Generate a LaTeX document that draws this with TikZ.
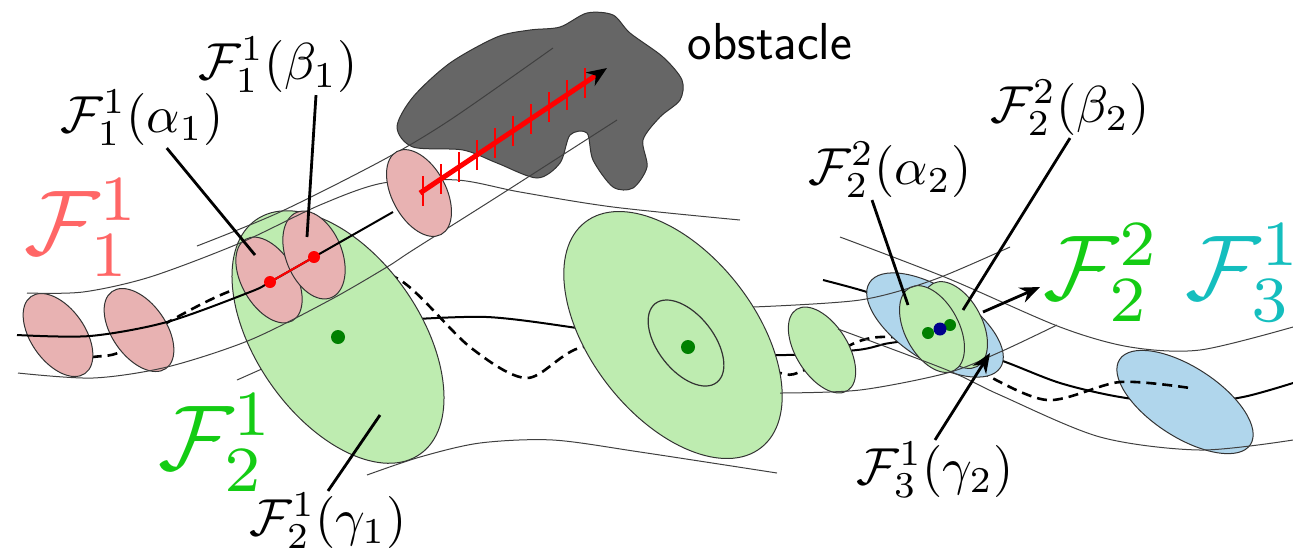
\documentclass[tikz,border=0pt]{standalone}
\usetikzlibrary{calc, arrows.meta}
\definecolor{pinkfill}{RGB}{232,178,178}
\definecolor{greenfill}{RGB}{190,236,176}
\definecolor{bluefill}{RGB}{176,214,236}
\definecolor{famred}{RGB}{255,102,102}
\definecolor{famgreen}{RGB}{20,204,20}
\definecolor{famcyan}{RGB}{20,190,190}
\definecolor{dotgreen}{RGB}{0,128,0}
\definecolor{obstgray}{RGB}{102,102,102}
\newcommand{\lblmath}[1]{\scalebox{2.6}{$#1$}}
\newcommand{\fammath}[1]{\scalebox{4.6}{$#1$}}

\begin{document}
\begin{tikzpicture}[x=0.5pt, y=-0.5pt,
    tube/.style={black!75, line width=0.5pt},
    traj/.style={black, line width=1pt},
    guess/.style={black, line width=1.3pt, dash pattern=on 5pt off 3pt},
    pinkell/.style={fill=pinkfill, draw=black!80, line width=0.5pt},
    greenell/.style={fill=greenfill, draw=black!80, line width=0.5pt},
    blueell/.style={fill=bluefill, draw=black!80, line width=0.5pt},
    leader/.style={black, line width=1.4pt},
    pointer/.style={leader, -{Stealth[length=10pt, width=8pt]}},
    lbl/.style={inner sep=1pt},
    famlbl/.style={inner sep=1pt},
    tickmark/.style={red, line width=1pt}]
    \useasboundingbox (0,0) rectangle (1293,554);
    %traiettorie sotto le ellissi
    \draw[traj] plot[smooth] coordinates {(400,320) (487,317) (577,328) (680,345) (773,355) (857,350) (890,343) (935,340) (1000,360) (1060,383) (1120,397) (1185,404) (1243,397) (1293,383)};
    \draw[traj] plot[smooth] coordinates {(823,280) (870,293) (910,310)};
    %ellisse blu a destra
    \draw[blueell, rotate around={-33:(1185,402)}] (1185,402) ellipse (78 and 35);
    %traiettoria tratteggiata
    \draw[guess] plot[smooth] coordinates {(60,362) (93,357) (120,352) (170,321) (233,290) (330,262) (400,280) (470,347) (527,378) (583,347) (680,350) (775,372) (800,372) (857,342) (890,337) (935,345) (977,370) (1047,400) (1120,382) (1190,388)};
    %bordi sotto l'ellisse grande
    \draw[tube] (237,380) -- (300,352);
    \draw[tube] plot[smooth] coordinates {(367,475) (420,457) (480,443) (553,440) (640,452) (777,473)};
    %ostacolo
    \draw[fill=obstgray, draw=black!80, line width=0.5pt] plot[smooth cycle] coordinates {(397,127) (413,97) (450,63) (497,37) (530,30) (560,27) (587,13) (613,15) (630,33) (663,57) (682,80) (680,100) (660,117) (643,140) (647,167) (633,188) (613,187) (593,160) (587,133) (570,135) (560,163) (537,178) (497,163) (463,150) (413,147)};
    \node[font=\sffamily\fontsize{26}{30}\selectfont] (obst) at (770,42) {obstacle};
    %ellissi a sinistra
    \draw[pinkell, rotate around={35:(58,335)}] (58,335) ellipse (27 and 47);
    \draw[pinkell, rotate around={35:(139,330)}] (139,330) ellipse (27 and 47);
    \draw[greenell, rotate around={35:(338,337)}] (338,337) ellipse (82 and 143);
    \draw[pinkell, rotate around={30:(269,280)}] (269,280) ellipse (27 and 47);
    \draw[pinkell, rotate around={22:(314,255)}] (314,255) ellipse (28 and 46);
    %traiettoria a sinistra
    \draw[traj] plot[smooth] coordinates {(17,335) (90,336) (167,322) (250,292) (270,282) (314,257) (393,212)};
    \draw[red, line width=1pt] (270,282) -- (314,257);
    %bordi dei tubi a sinistra
    \draw[tube] plot[smooth] coordinates {(27,293) (83,292) (150,277) (240,243) (320,205) (383,183) (457,180) (520,192) (613,207) (740,220)};
    \draw[tube] plot[smooth] coordinates {(197,246) (280,212) (383,160) (450,120) (553,48)};
    \draw[tube] plot[smooth] coordinates {(18,373) (93,378) (167,367) (250,340) (330,300) (387,267) (413,250) (500,195) (617,120)};
    \draw[pinkell, rotate around={28:(419,193)}] (419,193) ellipse (27 and 47);
    %ellissi al centro
    \draw[greenell, rotate around={38:(673,335)}] (673,335) ellipse (82 and 143);
    \draw[black!80, line width=0.6pt, rotate around={38:(686,343)}] (686,343) ellipse (28 and 50);
    \draw[greenell, rotate around={32:(822,350)}] (822,350) ellipse (26 and 48);
    %gruppo a destra
    \draw[blueell, rotate around={-33:(935,325)}] (935,325) ellipse (78 and 36);
    \draw[greenell, rotate around={28:(955,325)}] (955,325) ellipse (27 and 47);
    \draw[greenell, rotate around={28:(932,329)}] (932,329) ellipse (27 and 47);
    %bordi dei tubi a destra
    \draw[tube] plot[smooth] coordinates {(840,237) (947,278) (1060,327) (1130,347) (1200,350) (1293,327)};
    \draw[tube] plot[smooth] coordinates {(753,307) (860,300) (933,280) (1010,247)};
    \draw[tube] plot[smooth] coordinates {(780,393) (860,390) (947,373) (1000,352) (1057,325)};
    \draw[tube] plot[smooth] coordinates {(838,329) (947,370) (1000,395) (1100,437) (1200,450) (1293,440)};
    %freccia rossa con tacche
    \coordinate (rs) at (420,193);
    \coordinate (re) at (607,68);
    \draw[red, line width=2.5pt, -{Stealth[black, length=10pt, width=8pt]}] (rs) -- (re);
    \foreach \k in {0,...,9}
        \draw[tickmark] ($(423,191)!\k/9!(585,83)$) ++(0,-15) -- ++(0,30);
    %punti
    \fill[red] (270,282) circle (6);
    \fill[red] (314,257) circle (6);
    \fill[dotgreen] (338,337) circle (7);
    \fill[dotgreen] (688,347) circle (7);
    \fill[dotgreen] (928,333) circle (6);
    \fill[dotgreen] (950,325) circle (6);
    \fill[blue!55!black] (940,329) circle (6.5);
    %etichette
    \node[lbl] (la1) at (142,118) {\lblmath{\mathcal{F}_1^1(\alpha_1)}};
    \node[lbl] (lb1) at (278,65) {\lblmath{\mathcal{F}_1^1(\beta_1)}};
    \node[lbl] (lg1) at (328,521) {\lblmath{\mathcal{F}_2^1(\gamma_1)}};
    \node[lbl] (la2) at (890,170) {\lblmath{\mathcal{F}_2^2(\alpha_2)}};
    \node[lbl] (lb2) at (1070,108) {\lblmath{\mathcal{F}_2^2(\beta_2)}};
    \node[lbl] (lg2) at (935,470) {\lblmath{\mathcal{F}_3^1(\gamma_2)}};
    \node[famlbl, famred] (f11) at (83,228) {\fammath{\mathcal{F}_1^1}};
    \node[famlbl, famgreen] (f21) at (217,443) {\fammath{\mathcal{F}_2^1}};
    \node[famlbl, famgreen] (f22) at (1102,273) {\fammath{\mathcal{F}_2^2}};
    \node[famlbl, famcyan] (f31) at (1244,273) {\fammath{\mathcal{F}_3^1}};
    %linee di richiamo
    \coordinate (pa1) at (255,255);
    \coordinate (pb1) at (307,237);
    \coordinate (pg1) at (380,415);
    \coordinate (pa2) at (908,305);
    \coordinate (pb2) at (963,310);
    \coordinate (pg2) at (990,353);
    \coordinate (cl) at (983,312);
    \coordinate (clend) at (1040,287);
    \draw[leader] (la1) -- (pa1);
    \draw[leader] ([xshift=19pt]lb1.south) -- (pb1);
    \draw[leader] (lg1.north) -- (pg1);
    \draw[leader] ([xshift=-9pt]la2.south) -- (pa2);
    \draw[leader] (lb2.south) -- (pb2);
    \draw[pointer] (lg2.north) -- (pg2);
    \draw[pointer] (cl) -- (clend);
\end{tikzpicture}
\end{document}
